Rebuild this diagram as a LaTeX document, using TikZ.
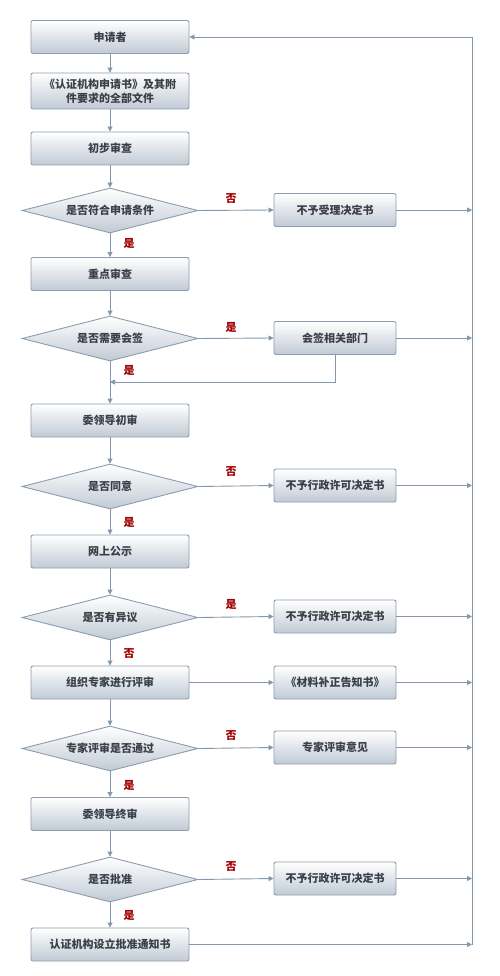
\documentclass[tikz,border=0pt]{standalone}
\usepackage{fontspec}
\newfontfamily\cjk{Noto Sans CJK SC}
\usetikzlibrary{shapes.geometric,arrows.meta}
\definecolor{ln}{HTML}{8597AB}
\definecolor{bd}{HTML}{8E9CAD}
\definecolor{bc}{HTML}{C0CAD5}
\definecolor{tx}{HTML}{3B4048}
\definecolor{lb}{HTML}{A00000}
\begin{document}
\begin{tikzpicture}[x=1pt,y=-1pt,
  proc/.style={draw=bd, line width=0.9pt, rounded corners=2pt, top color=white, bottom color=bc,
    minimum width=158pt, minimum height=33pt, inner sep=0pt,
    font=\cjk\bfseries\fontsize{11}{14}\selectfont, text=tx, align=center},
  side/.style={proc, minimum width=122pt},
  dec/.style={diamond, draw=bd, line width=0.9pt, top color=white, bottom color=bc,
    minimum width=176pt, minimum height=45pt, aspect=3.9, inner sep=0pt,
    font=\cjk\bfseries\fontsize{11}{14}\selectfont, text=tx},
  wire/.style={draw=ln, line width=0.9pt},
  conn/.style={wire, -{Triangle[length=5pt,width=5pt]}},
  lab/.style={font=\cjk\bfseries\fontsize{11}{14}\selectfont, text=lb, inner sep=0pt}
]
\useasboundingbox (0,0) rectangle (500,976);
\node[proc] (a1) at (110,37) {申请者};
\node[proc, minimum height=36pt] (a2) at (110,91) {《认证机构申请书》及其附\\件要求的全部文件};
\node[proc] (a3) at (110,148.5) {初步审查};
\node[dec] (d1) at (110,210.5) {是否符合申请条件};
\node[side] (s1) at (335,210) {不予受理决定书};
\node[proc] (a4) at (110,274) {重点审查};
\node[dec] (d2) at (110,338.5) {是否需要会签};
\node[side] (s2) at (335,338) {会签相关部门};
\node[proc] (a5) at (110,420.5) {委领导初审};
\node[dec] (d3) at (110,486.5) {是否同意};
\node[side] (s3) at (335,485.5) {不予行政许可决定书};
\node[proc] (a6) at (110,551.5) {网上公示};
\node[dec] (d4) at (110,617.5) {是否有异议};
\node[side] (s4) at (335,616.5) {不予行政许可决定书};
\node[proc] (a7) at (110,682.5) {组织专家进行评审};
\node[side] (s5) at (335,682.5) {《材料补正告知书》};
\node[dec] (d5) at (110,748.5) {专家评审是否通过};
\node[side] (s6) at (335,747.5) {专家评审意见};
\node[proc] (a8) at (110,814) {委领导终审};
\node[dec] (d6) at (110,879.5) {是否批准};
\node[side] (s7) at (335,878.5) {不予行政许可决定书};
\node[proc] (a9) at (110,944.5) {认证机构设立批准通知书};

\coordinate (rt) at (472,37);
\coordinate (rb) at (472,945);
\coordinate (j) at (110,382);

\foreach \u/\v in {a1/a2,a2/a3,a3/d1,d1/a4,a4/d2,d2/a5,a5/d3,d3/a6,a6/d4,d4/a7,a7/d5,d5/a8,a8/d6,d6/a9}
  \draw[conn] (\u) -- (\v);
\foreach \u/\v in {d1/s1,d2/s2,d3/s3,d4/s4,a7/s5,d5/s6,d6/s7}
  \draw[conn] (\u.east) -- (\v.west);
\foreach \u in {s1,s2,s3,s4,s5,s6,s7,a9}
  \draw[conn] (\u.east) -- (\u.east -| rt);
\draw[wire] (rb) -- (rt);
\draw[conn] (rt) -- (a1.east);
\draw[conn] (s2.south) |- (j);

\node[lab] (h1) at (231,199) {否};
\node[lab] (h2) at (231,327) {是};
\node[lab] (h3) at (231,472) {否};
\node[lab] (h4) at (231,604) {是};
\node[lab] (h5) at (231,736) {否};
\node[lab] (h6) at (231,867) {否};
\node[lab] (v1) at (129,243) {是};
\node[lab] (v2) at (129,370) {是};
\node[lab] (v3) at (129,522) {是};
\node[lab] (v4) at (129,654) {否};
\node[lab] (v5) at (129,785) {是};
\node[lab] (v6) at (129,915) {是};
\end{tikzpicture}
\end{document}
